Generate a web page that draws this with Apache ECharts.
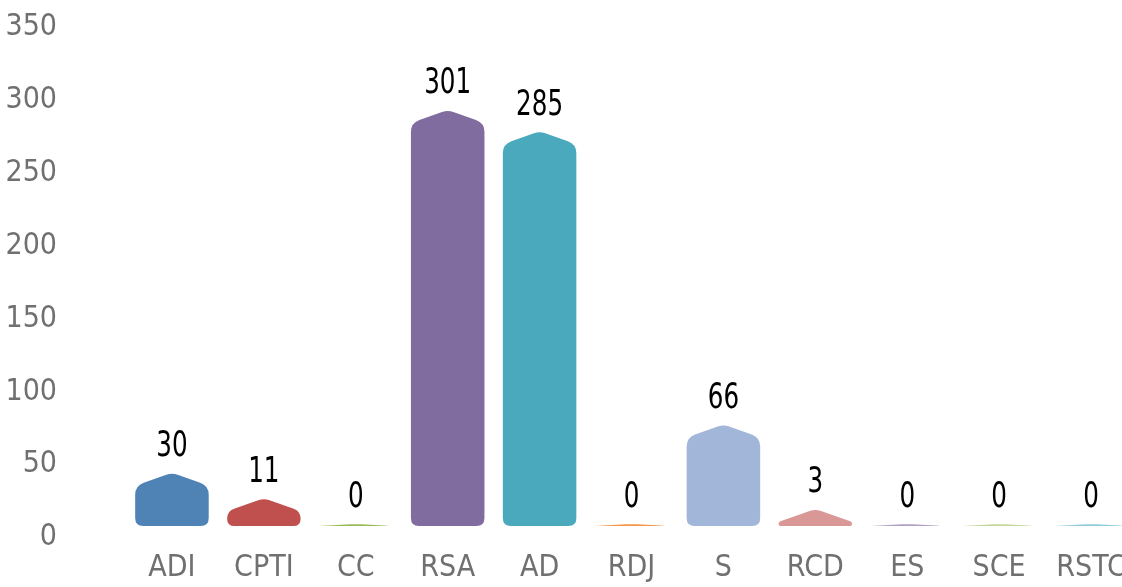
<!DOCTYPE html>
<html>
<head>
<meta charset="utf-8">
<script src="https://cdn.jsdelivr.net/npm/echarts@6/dist/echarts.min.js"></script>
<style>
    html, body { margin: 0; padding: 0; background: #fff; }
    #main { width: 1122px; height: 587px; }
</style>
</head>
<body>
<div id="main"></div>
<script>
// chart data
var categories = ["ADI", "CPTI", "CC", "RSA", "AD", "RDJ", "S", "RCD", "ES", "SCE", "RSTC"];
var counts = [30, 11, 0, 301, 285, 0, 66, 3, 0, 0, 0];
var yTicks = [0, 50, 100, 150, 200, 250, 300, 350];

// bar colours, one per category
var barColors = ["#4f83b6", "#c0504d", "#9bbb59", "#806c9f", "#4aa9bd", "#f79646",
    "#a2b6d9", "#d99795", "#b3a2c7", "#c3d69b", "#93cddd"];

var FONT = "'Liberation Sans Narrow', 'DejaVu Sans Condensed', sans-serif";
var PEAK = 13;       // height of the pointed top (px)
var ZERO_PEAK = 2;   // sliver drawn for zero values

function roundedPath(pts, radii) {
    // drop repeated points
    var p = [], r = [];
    for (var i = 0; i < pts.length; i++) {
        var last = p[p.length - 1];
        if (last && Math.abs(last[0] - pts[i][0]) < 0.01 && Math.abs(last[1] - pts[i][1]) < 0.01) {
            continue;
        }
        p.push(pts[i]);
        r.push(radii[i]);
    }
    var n = p.length, d = "";
    for (var j = 0; j < n; j++) {
        var prev = p[(j - 1 + n) % n], cur = p[j], next = p[(j + 1) % n];
        var lenIn = Math.hypot(prev[0] - cur[0], prev[1] - cur[1]);
        var lenOut = Math.hypot(next[0] - cur[0], next[1] - cur[1]);
        var rr = Math.min(r[j], lenIn / 2, lenOut / 2);
        var a = [cur[0] + (prev[0] - cur[0]) * rr / lenIn, cur[1] + (prev[1] - cur[1]) * rr / lenIn];
        var b = [cur[0] + (next[0] - cur[0]) * rr / lenOut, cur[1] + (next[1] - cur[1]) * rr / lenOut];
        d += (j === 0 ? "M" : "L") + a[0] + " " + a[1] + " Q" + cur[0] + " " + cur[1] + " " + b[0] + " " + b[1] + " ";
    }
    return d + "Z";
}

function renderBar(params, api) {
    var idx = api.value(0);
    var v = api.value(1);
    var base = api.coord([idx, 0]);
    var top = api.coord([idx, v]);
    var w = api.size([1, 0])[0] * 0.8;
    var cx = base[0], left = cx - w / 2, right = cx + w / 2;
    var bottom = base[1], bodyTop = top[1];
    var peak = bodyTop - (v > 0 ? PEAK : ZERO_PEAK);

    var pts = [[left, bottom], [right, bottom], [right, bodyTop], [cx, peak], [left, bodyTop]];
    var radii = [8, 8, 9, 6, 9];

    return {
        type: "group",
        children: [{
            type: "path",
            shape: { pathData: roundedPath(pts, radii) },
            style: { fill: barColors[params.dataIndex] }
        }, {
            // value label, squeezed a bit to look like a condensed face
            type: "text",
            x: cx,
            y: peak - 26,
            scaleX: 0.76,
            style: {
                text: String(v),
                align: "center",
                verticalAlign: "middle",
                fontFamily: FONT,
                fontSize: 36,
                fill: "#000"
            }
        }]
    };
}

var chart = echarts.init(document.getElementById("main"));

var option = {
    animation: false,
    grid: [
        { left: 65, right: 10, top: 27.5, bottom: 49.5, outerBoundsMode: "none" },
        { left: 126, right: -15, top: 57.3, bottom: 61, outerBoundsMode: "none" }
    ],
    xAxis: [{
        gridIndex: 0,
        type: "value",
        show: false
    }, {
        gridIndex: 1,
        type: "category",
        data: categories,
        axisLine: { show: false },
        axisTick: { show: false },
        axisLabel: {
            interval: 0,
            margin: 27,
            fontFamily: FONT,
            fontSize: 30,
            color: "#707070"
        }
    }],
    yAxis: [{
        gridIndex: 0,
        type: "value",
        min: yTicks[0],
        max: yTicks[yTicks.length - 1],
        interval: yTicks[1] - yTicks[0],
        axisLine: { show: false },
        axisTick: { show: false },
        splitLine: { show: false },
        axisLabel: {
            margin: 8,
            fontFamily: FONT,
            fontSize: 30,
            color: "#707070"
        }
    }, {
        gridIndex: 1,
        type: "value",
        min: 0,
        max: 350,
        show: false,
        splitLine: { show: false }
    }],
    series: [{
        type: "custom",
        xAxisIndex: 1,
        yAxisIndex: 1,
        renderItem: renderBar,
        encode: { x: 0, y: 1 },
        data: counts.map(function (v, i) { return [i, v]; })
    }]
};

chart.setOption(option);
</script>
</body>
</html>
